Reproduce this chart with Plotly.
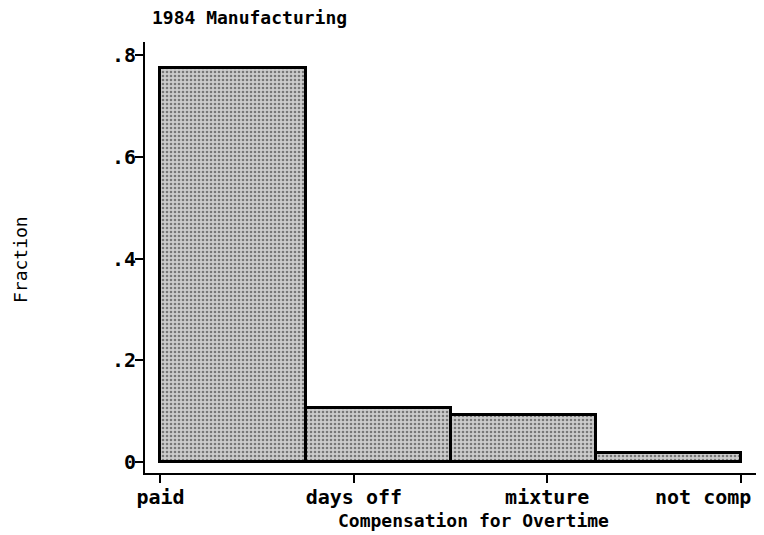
import plotly.graph_objects as go

categories = ["paid", "days off", "mixture", "not comp"]
fractions = [0.775, 0.107, 0.093, 0.018]
y_tick_vals = [0, 0.2, 0.4, 0.6, 0.8]
y_tick_text = ["0", ".2", ".4", ".6", ".8"]

# Stata-style histogram: categories coded 1..4, 4 bins over [1, 4]
n = len(categories)
codes = list(range(1, n + 1))
bin_w = (codes[-1] - codes[0]) / n
centers = [codes[0] + bin_w * (i + 0.5) for i in range(n)]

FONT = "DejaVu Sans Mono"

# last label is drawn right-aligned at its tick so it stays inside the page (as in the original)
x_tick_text = ["<b>%s</b>" % c for c in categories[:-1]] + [""]

W, H = 764, 535
ML, MR, MT, MB = 137, 12, 34, 70
PW, PH = W - ML - MR, H - MT - MB

fig = go.Figure()
fig.add_trace(go.Bar(
    x=centers,
    y=fractions,
    width=[bin_w] * n,
    marker=dict(
        color="#b0b0b0",
        line=dict(color="black", width=3),
        pattern=dict(shape=".", fgcolor="#222222", bgcolor="#cccccc", size=4, solidity=0.33),
    ),
    showlegend=False,
))

fig.update_layout(
    width=W,
    height=H,
    paper_bgcolor="white",
    plot_bgcolor="white",
    margin=dict(l=ML, r=MR, t=MT, b=MB),
    font=dict(family=FONT, size=18, color="black"),
    title=dict(
        text="<b>1984 Manufacturing</b>",
        x=144 / W, xanchor="left",
        y=1 - 10 / H, yanchor="middle",
        font=dict(family=FONT, size=18, color="black"),
    ),
    bargap=0,
    annotations=[
        dict(text="<b>%s</b>" % categories[-1], xref="x", yref="paper",
             x=codes[-1], y=-(489 - (MT + PH)) / PH, xanchor="right", yanchor="middle",
             xshift=12, showarrow=False, font=dict(family=FONT, size=20)),
        dict(text="<b>Compensation for Overtime</b>", xref="paper", yref="paper",
             x=(465 - ML) / PW, y=-(512 - (MT + PH)) / PH, xanchor="center", yanchor="middle",
             showarrow=False, font=dict(family=FONT, size=18)),
        dict(text="Fraction", xref="paper", yref="paper",
             x=-(ML - 12) / PW, y=(MT + PH - 252) / PH, xanchor="center", yanchor="middle",
             textangle=-90, showarrow=False, font=dict(family=FONT, size=18)),
    ],
)

fig.update_xaxes(
    range=[0.92, 4.1],
    tickvals=codes,
    ticktext=x_tick_text,
    showline=True, linecolor="black", linewidth=2,
    ticks="outside", ticklen=8, tickwidth=2, tickcolor="black",
    showgrid=False, zeroline=False, automargin=False,
    ticklabelstandoff=-3,
    tickfont=dict(family=FONT, size=20),
)
fig.update_yaxes(
    range=[-0.0216, 0.8256],
    tickvals=y_tick_vals,
    ticktext=["<b>%s</b>" % t for t in y_tick_text],
    showline=True, linecolor="black", linewidth=2,
    ticks="outside", ticklen=8, tickwidth=2, tickcolor="black",
    showgrid=False, zeroline=False, automargin=False,
    ticklabelstandoff=-5,
    tickfont=dict(family=FONT, size=20),
)

fig.write_html("out.html")
